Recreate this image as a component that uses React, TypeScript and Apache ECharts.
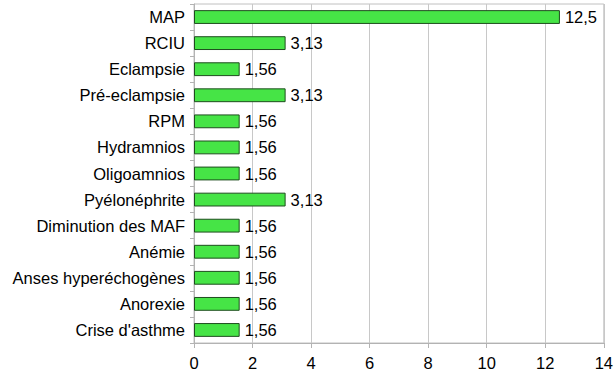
import React, { useEffect, useRef } from "react";
import * as echarts from "echarts";

const categories = [
  "MAP",
  "RCIU",
  "Eclampsie",
  "Pré-eclampsie",
  "RPM",
  "Hydramnios",
  "Oligoamnios",
  "Pyélonéphrite",
  "Diminution des MAF",
  "Anémie",
  "Anses hyperéchogènes",
  "Anorexie",
  "Crise d'asthme",
];
const values = [12.5, 3.13, 1.56, 3.13, 1.56, 1.56, 1.56, 3.13, 1.56, 1.56, 1.56, 1.56, 1.56];
const xTicks = { min: 0, max: 14, interval: 2 };

export default function App() {
  const ref = useRef<HTMLDivElement>(null);
  useEffect(() => {
    document.body.style.margin = "0";
    const chart = echarts.init(ref.current!, undefined, { renderer: "svg" });
    const font = "'Liberation Sans', Arial, sans-serif";
    chart.setOption({
      animation: false,
      grid: { left: 194, right: 7, top: 4, bottom: 42, containLabel: false, show: true, borderColor: "#c0c0c0", borderWidth: 1 },
      xAxis: {
        type: "value",
        min: xTicks.min,
        max: xTicks.max,
        interval: xTicks.interval,
        axisLine: { show: true, lineStyle: { color: "#b3b3b3" } },
        axisTick: { show: true, length: 5, lineStyle: { color: "#b3b3b3" } },
        splitLine: { show: true, lineStyle: { color: "#c8c8c8" } },
        axisLabel: { color: "#000", fontSize: 16.5, fontFamily: font, margin: 11 },
      },
      yAxis: {
        type: "category",
        inverse: true,
        data: categories,
        axisLine: { show: true, lineStyle: { color: "#b3b3b3" } },
        axisTick: { show: true, length: 4, lineStyle: { color: "#b3b3b3" } },
        axisLabel: { color: "#000", fontSize: 16.5, fontFamily: font, margin: 9 },
      },
      series: [
        {
          type: "bar",
          data: values,
          barCategoryGap: "47%",
          itemStyle: { color: "#46e446", borderColor: "#1e4d1e", borderWidth: 1 },
          label: {
            show: true,
            position: "right",
            distance: 5,
            color: "#000",
            fontSize: 16.5,
            fontFamily: font,
            formatter: (p: any) => String(p.value).replace(".", ","),
          },
        },
      ],
    });
    return () => chart.dispose();
  }, []);
  return <div ref={ref} style={{ width: 616, height: 385 }} />;
}
